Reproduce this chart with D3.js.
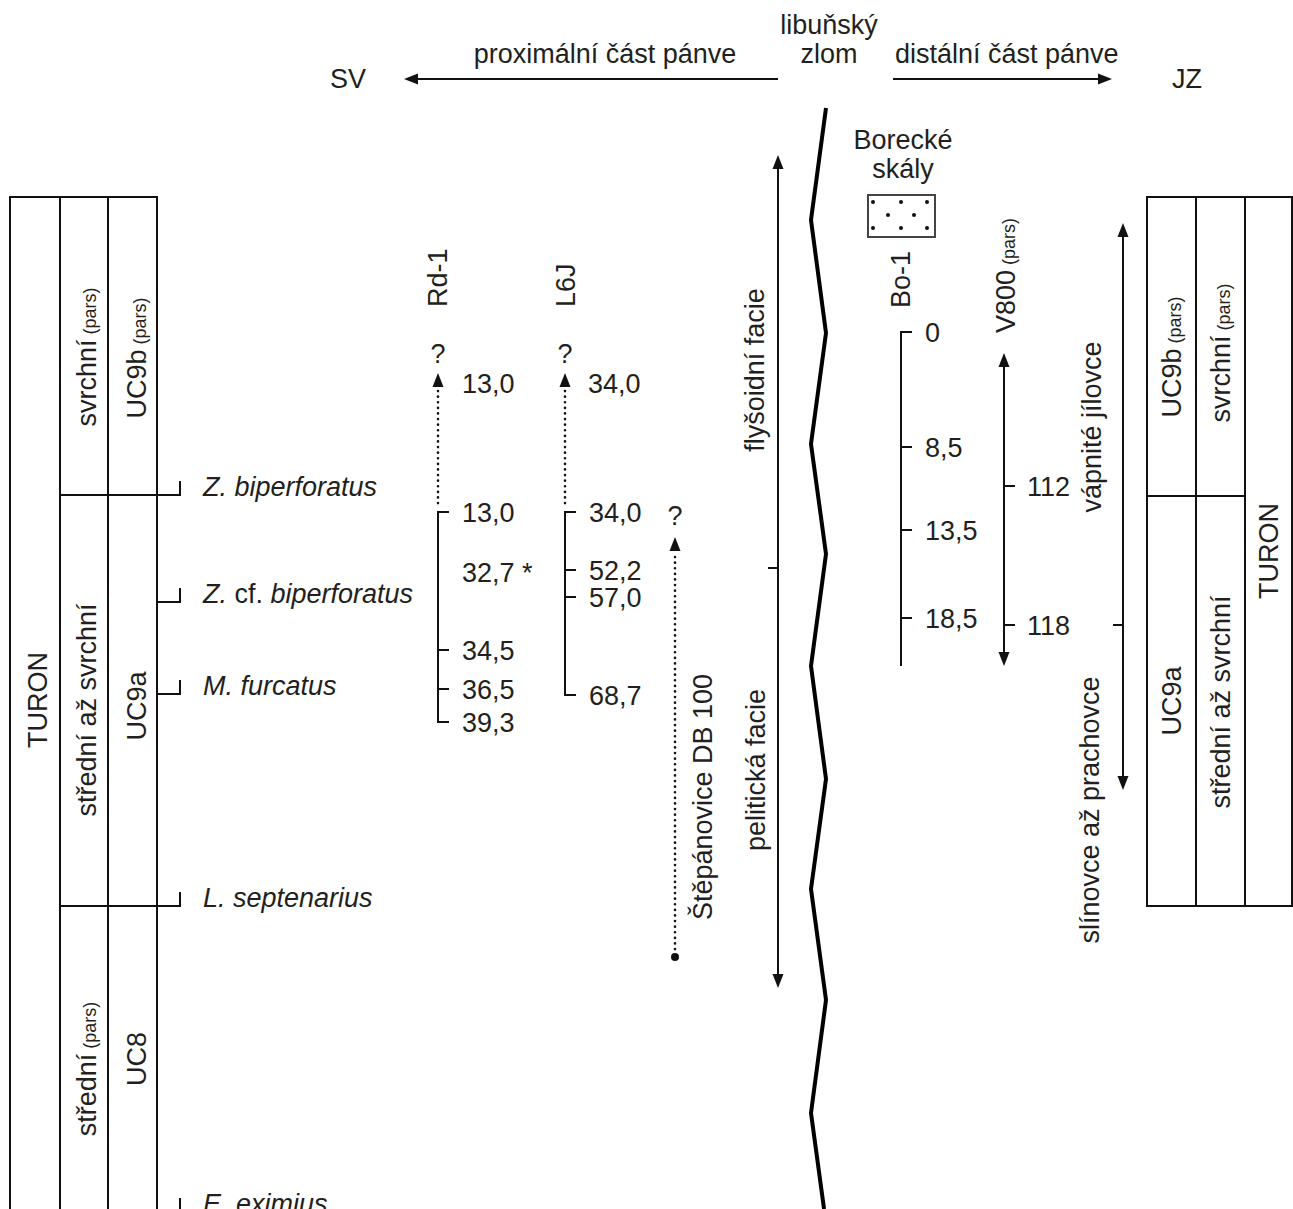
<!DOCTYPE html>
<html>
<head>
<meta charset="utf-8">
<script src="https://cdn.jsdelivr.net/npm/d3@7"></script>
<style>
  body { margin: 0; background: #fff; }
  svg text { font-family: "Liberation Sans", Arial, Helvetica, sans-serif; fill: #231f20; }
</style>
</head>
<body>
<div id="chart"></div>
<script>
// --- data (levels are stratigraphic positions in diagram units) ---
const markerNames = ['Z. biperforatus', 'Z. cf. biperforatus', 'M. furcatus', 'L. septenarius', 'E. eximius'];
const markerLevels = [495, 602, 694, 906, 1212];
const markerIsBoundary = [true, false, false, true, false];

const leftSubstages = ['svrchní', 'střední až svrchní', 'střední'];
const leftSubstagePars = [true, false, true];
const leftSubstageLevels = [357, 710, 1069];
const leftZones = ['UC9b', 'UC9a', 'UC8'];
const leftZonePars = [true, false, false];
const leftZoneLevels = [358, 706, 1059];

const rightZones = ['UC9b', 'UC9a'];
const rightZonePars = [true, false];
const rightZoneLevels = [357, 701];
const rightSubstages = ['svrchní', 'střední až svrchní'];
const rightSubstagePars = [true, false];
const rightSubstageLevels = [353, 702];

const rd1Labels = ['13,0', '32,7 *', '34,5', '36,5', '39,3'];
const rd1Levels = [512, 572, 650, 689, 722];
const rd1Ticks = [true, false, true, true, true];
const l6jLabels = ['34,0', '52,2', '57,0', '68,7'];
const l6jLevels = [512, 570, 597, 695];
const bo1Labels = ['0', '8,5', '13,5', '18,5'];
const bo1Levels = [332, 447, 530, 618];
const v800Labels = ['112', '118'];
const v800Levels = [486, 625];

const faultLevels = [108, 220, 333, 444, 554, 666, 779, 889, 1000, 1113, 1209];
const faultSide = [1, 0, 1, 0, 1, 0, 1, 0, 1, 0, 0.87];

// --- layout ---
const W = 1293, H = 1209;
const FS = 27;       // main font size
const FSS = 18;      // "(pars)" size
const ink = '#111';

const svg = d3.select('#chart').append('svg')
  .attr('width', W).attr('height', H)
  .style('display', 'block')
  .style('background', '#fff');

const y = d3.scaleLinear().domain([0, H]).range([0, H]);
const faultX = d3.scaleLinear().domain([0, 1]).range([811, 826]);

function line(x1, y1, x2, y2, w = 2, dash = null) {
  const l = svg.append('line')
    .attr('x1', x1).attr('y1', y1).attr('x2', x2).attr('y2', y2)
    .attr('stroke', ink).attr('stroke-width', w);
  if (dash) l.attr('stroke-dasharray', dash).attr('stroke-linecap', 'round');
  return l;
}

function arrowHead(x, yy, dir, len = 14, half = 5.5) {
  let pts;
  if (dir === 'up') pts = [[x, yy], [x - half, yy + len], [x + half, yy + len]];
  if (dir === 'down') pts = [[x, yy], [x - half, yy - len], [x + half, yy - len]];
  if (dir === 'left') pts = [[x, yy], [x + len, yy - half], [x + len, yy + half]];
  if (dir === 'right') pts = [[x, yy], [x - len, yy - half], [x - len, yy + half]];
  svg.append('path').attr('d', d3.line()(pts) + 'Z').attr('fill', ink);
}

function text(x, yy, str, opts = {}) {
  return svg.append('text')
    .attr('x', x).attr('y', yy)
    .attr('font-size', opts.size || FS)
    .attr('text-anchor', opts.anchor || 'start')
    .attr('font-style', opts.italic ? 'italic' : null)
    .text(str);
}

// vertical text reading bottom-to-top; x = baseline, yy = anchor point
function vtext(x, yy, main, pars, anchor = 'middle') {
  const t = svg.append('text')
    .attr('transform', `translate(${x},${yy}) rotate(-90)`)
    .attr('text-anchor', anchor)
    .attr('font-size', FS);
  t.append('tspan').text(main);
  if (pars) t.append('tspan').attr('font-size', FSS).text(' (pars)');
  return t;
}

// ---------------- header ----------------
text(330, 88, 'SV');
text(1172, 88, 'JZ');
text(605, 63, 'proximální část pánve', { anchor: 'middle' });
text(829, 34, 'libuňský', { anchor: 'middle' });
text(829, 63, 'zlom', { anchor: 'middle' });
text(895, 63, 'distální část pánve');
line(778, 79, 415, 79);
arrowHead(404, 79, 'left');
line(893, 79, 1100, 79);
arrowHead(1112, 79, 'right');

// ---------------- left table ----------------
const LX = [10, 60, 108, 157];
const tableTop = y(197);
LX.forEach(x => line(x, tableTop, x, H + 5));
line(LX[0] - 1, tableTop, LX[3] + 1, tableTop);

vtext(47, y(700), 'TURON', false);
leftSubstages.forEach((s, i) => vtext(96, y(leftSubstageLevels[i]), s, leftSubstagePars[i]));
leftZones.forEach((s, i) => vtext(146, y(leftZoneLevels[i]), s, leftZonePars[i]));

// nannofossil datum markers
markerNames.forEach((name, i) => {
  const yy = y(markerLevels[i]);
  const x0 = markerIsBoundary[i] ? LX[1] : LX[3];
  line(x0, yy, 180, yy);
  line(180, yy + 1, 180, yy - 14);
  const t = svg.append('text').attr('x', 203).attr('y', yy + 1).attr('font-size', FS);
  if (name.includes(' cf. ')) {
    const [a, b] = name.split(' cf. ');
    t.append('tspan').attr('font-style', 'italic').text(a + ' ');
    t.append('tspan').text('cf. ');
    t.append('tspan').attr('font-style', 'italic').text(b);
  } else {
    t.attr('font-style', 'italic').text(name);
  }
});

// ---------------- right table ----------------
const RX = [1147, 1196, 1245, 1292];
const rTop = y(197), rMid = y(496), rBot = y(906);
RX.forEach(x => line(x, rTop, x, rBot));
line(RX[0] - 1, rTop, RX[3] + 1, rTop);
line(RX[0] - 1, rBot, RX[3] + 1, rBot);
line(RX[0], rMid, RX[2], rMid);
rightZones.forEach((s, i) => vtext(1181, y(rightZoneLevels[i]), s, rightZonePars[i]));
rightSubstages.forEach((s, i) => vtext(1230, y(rightSubstageLevels[i]), s, rightSubstagePars[i]));
vtext(1278, y(551), 'TURON', false);

// ---------------- boreholes ----------------
function bracketColumn(x, labels, levels, ticks, opts) {
  const top = y(levels[0]);
  const bot = opts.end != null ? y(opts.end) : y(levels[levels.length - 1]);
  line(x, top - 1, x, bot + 1);
  levels.forEach((lv, i) => {
    const yy = y(lv);
    if (!ticks || ticks[i]) line(x - 1, yy, x + 11, yy);
    text(x + 24, yy + 10, labels[i]);
  });
}

const DOTS = '0.1,5.5';

// Rd-1
vtext(447, y(307), 'Rd-1', false, 'start');
text(438, y(363), '?', { anchor: 'middle' });
arrowHead(438, y(373), 'up');
text(462, y(393), rd1Labels[0]);
line(438, y(391), 438, y(508), 2.6, DOTS);
bracketColumn(438, rd1Labels, rd1Levels, rd1Ticks, {});
line(437, y(rd1Levels[4]), 449, y(rd1Levels[4]));

// L6J
vtext(575, y(307), 'L6J', false, 'start');
text(565, y(363), '?', { anchor: 'middle' });
arrowHead(565, y(373), 'up');
text(588, y(393), l6jLabels[0]);
line(565, y(391), 565, y(508), 2.6, DOTS);
bracketColumn(565, l6jLabels, l6jLevels, null, {});

// Štěpánovice DB 100
text(675, y(525), '?', { anchor: 'middle' });
arrowHead(675, y(537), 'up');
line(675, y(557), 675, y(952), 2.6, DOTS);
svg.append('circle').attr('cx', 675).attr('cy', y(957)).attr('r', 4).attr('fill', ink);
vtext(712, y(797), 'Štěpánovice DB 100', false);

// facies arrow left of fault
line(778, y(166), 778, y(975));
arrowHead(778, y(155), 'up');
arrowHead(778, y(988), 'down');
line(768, y(568), 778, y(568));
vtext(764, y(370), 'flyšoidní facie', false);
vtext(765, y(770), 'pelitická facie', false);

// fault (libuňský zlom)
svg.append('path')
  .attr('d', d3.line().x((d, i) => faultX(faultSide[i])).y(d => y(d))(faultLevels))
  .attr('fill', 'none').attr('stroke', '#000').attr('stroke-width', 4)
  .attr('stroke-linejoin', 'miter');

// Borecké skály
text(903, y(149), 'Borecké', { anchor: 'middle' });
text(903, y(178), 'skály', { anchor: 'middle' });
svg.append('rect').attr('x', 868).attr('y', y(195)).attr('width', 67).attr('height', 42)
  .attr('fill', '#fff').attr('stroke', '#444').attr('stroke-width', 2);
const dotCols = [[873, 901, 927], [888, 914], [873, 901, 927]];
const dotRows = [202, 215, 228];
dotRows.forEach((r, i) => dotCols[i].forEach(cx =>
  svg.append('circle').attr('cx', cx).attr('cy', y(r)).attr('r', 2).attr('fill', ink)));

// Bo-1
vtext(910, y(308), 'Bo-1', false, 'start');
bracketColumn(901, bo1Labels, bo1Levels, null, { end: 665 });

// V800 (pars)
vtext(1015, y(333), 'V800', true, 'start');
line(1004, y(365), 1004, y(655));
arrowHead(1004, y(353), 'up');
arrowHead(1004, y(666), 'down');
v800Levels.forEach((lv, i) => {
  line(1004, y(lv), 1015, y(lv));
  text(1027, y(lv) + 10, v800Labels[i]);
});

// facies arrow right
line(1123, y(235), 1123, y(778));
arrowHead(1123, y(223), 'up');
arrowHead(1123, y(790), 'down');
line(1113, y(625), 1123, y(625));
vtext(1101, y(427), 'vápnité jílovce', false);
vtext(1099, y(810), 'slínovce až prachovce', false);
</script>
</body>
</html>
